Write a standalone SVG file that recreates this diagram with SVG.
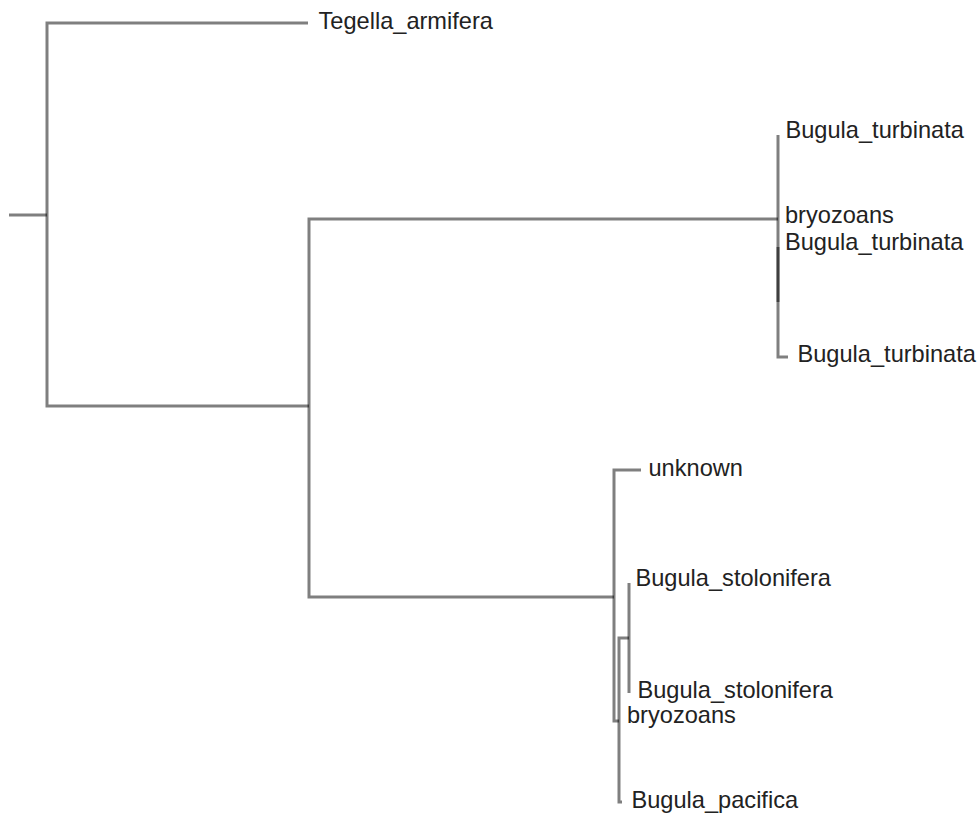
<svg xmlns="http://www.w3.org/2000/svg" width="980" height="819" viewBox="0 0 980 819">
<style>
.e{fill:none;stroke:#000;stroke-opacity:0.5;stroke-width:3;stroke-linecap:butt;stroke-linejoin:miter}
.t{font-family:"Liberation Sans",Arial,Helvetica,sans-serif;font-size:23.6px;fill:#222}
</style>
<rect width="980" height="819" fill="#fff"/>
<g id="connectors">
<path class="e" d="M9,215 H47"/>
<path class="e" d="M308,23 H47 V406 H309"/>
<path class="e" d="M778,219 H309 V597 H614"/>
<path class="e" d="M778,135 V302"/>
<path class="e" d="M778,247 V357 H788"/>
<path class="e" d="M641,470 H614 V721 H619"/>
<path class="e" d="M629,638 H619 V802 H622"/>
<path class="e" d="M629,583 V693"/>
</g>
<g id="n-tegella"><text class="t" x="318.5" y="29">Tegella_armifera</text></g>
<g id="n-turb1"><text class="t" x="785.5" y="138">Bugula_turbinata</text></g>
<g id="n-bryo1"><text class="t" x="785" y="223">bryozoans</text></g>
<g id="n-turb2"><text class="t" x="785" y="250">Bugula_turbinata</text></g>
<g id="n-turb3"><text class="t" x="797.5" y="362">Bugula_turbinata</text></g>
<g id="n-unknown"><text class="t" x="648.5" y="476">unknown</text></g>
<g id="n-stol1"><text class="t" x="635.5" y="586">Bugula_stolonifera</text></g>
<g id="n-stol2"><text class="t" x="637.5" y="698">Bugula_stolonifera</text></g>
<g id="n-bryo2"><text class="t" x="627" y="723">bryozoans</text></g>
<g id="n-pacifica"><text class="t" x="631.5" y="808">Bugula_pacifica</text></g>
</svg>
